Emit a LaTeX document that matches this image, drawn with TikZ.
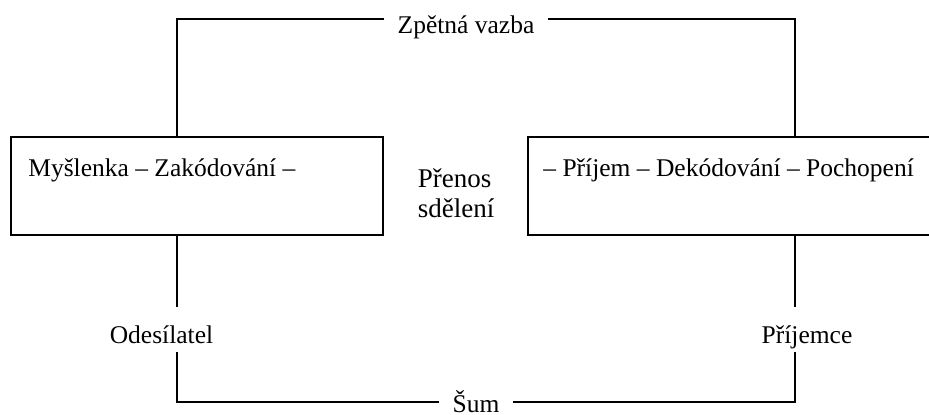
\documentclass[tikz,border=0pt]{standalone}
\usepackage{fontspec}
\setmainfont{Liberation Serif}
\usetikzlibrary{fit}
\tikzset{
  box/.style={draw, line width=0.9pt, inner sep=0pt},
  txt/.style={inner sep=0pt, font=\fontsize{12.75}{15}\selectfont},
  lbl/.style={txt, inner xsep=6.5pt},
  wire/.style={line width=0.9pt},
}
\begin{document}
\begin{tikzpicture}[x=0.5pt,y=-0.5pt]
  \clip (0,0) rectangle (929,414);
  % corners of the loop
  \coordinate (tl) at (177,19);
  \coordinate (tr) at (795,19);
  \coordinate (bl) at (177,402);
  \coordinate (br) at (795,402);
  % the two parties
  \node [box, fit={(11,137) (383,235)}] (sender) {};
  \node [box, fit={(528,137) (950,235)}] (receiver) {};
  \node [txt, anchor=base west] (encode) at (28,176) {Myšlenka – Zakódování –};
  \node [txt, anchor=base west] (decode) at (543,176) {– Příjem – Dekódování – Pochopení};
  \node [txt, align=left, font=\fontsize{13.5}{15}\selectfont] (channel) at (456,193) {Přenos\\sdělení};
  % labels on the loop
  \node [lbl, anchor=base] (feedback) at (466,33) {Zpětná vazba};
  \node [lbl, anchor=base] (noise) at (476,412) {Šum};
  \node [txt, anchor=base] (source) at (161.5,343) {Odesílatel};
  \node [txt, anchor=base] (target) at (807,343) {Příjemce};
  % feedback loop
  \draw [wire] (tl -| feedback.west) -- (tl) -- (sender.north -| tl);
  \draw [wire] (tr -| feedback.east) -- (tr) -- (receiver.north -| tr);
  \draw [wire] (sender.south -| tl) -- ([yshift=9pt]source.north -| tl);
  \draw [wire] ([yshift=-4.5pt]source.base -| bl) -- (bl) -- (bl -| noise.west);
  \draw [wire] (receiver.south -| tr) -- ([yshift=9pt]target.north -| tr);
  \draw [wire] ([yshift=-4.5pt]target.base -| br) -- (br) -- (br -| noise.east);
\end{tikzpicture}
\end{document}
